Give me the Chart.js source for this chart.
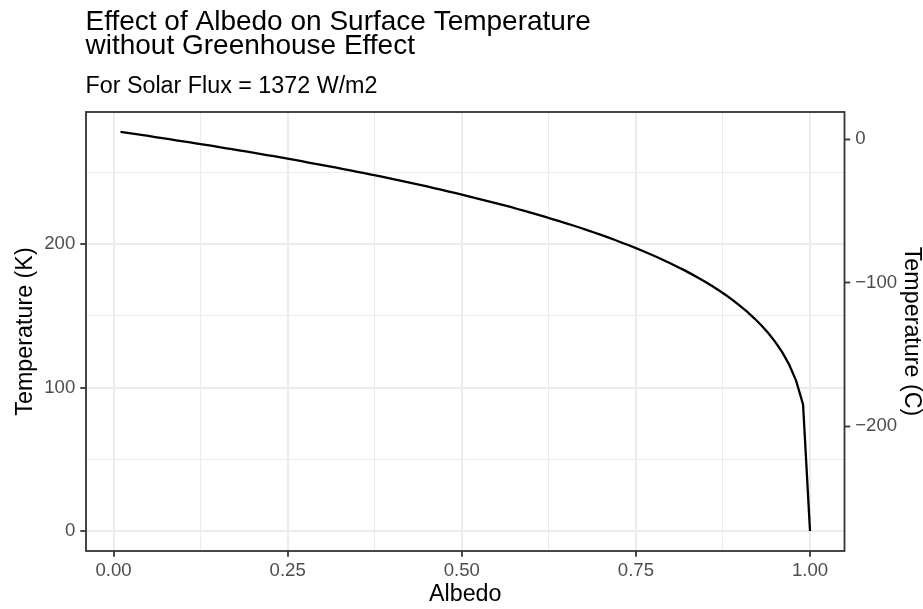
<!DOCTYPE html>
<html>
<head>
<meta charset="utf-8">
<script src="https://cdn.jsdelivr.net/npm/chart.js@4/dist/chart.umd.min.js"></script>
<style>
html,body{margin:0;padding:0;background:#fff;}
#wrap{position:relative;width:923px;height:609px;}
</style>
</head>
<body>
<div id="wrap"><canvas id="c" width="923" height="609"></canvas></div>
<script>
const titleLines = ["Effect of Albedo on Surface Temperature", "without Greenhouse Effect"];
const subtitleText = "For Solar Flux = 1372 W/m2";
const xTitle = "Albedo";
const yTitle = "Temperature (K)";
const y2Title = "Temperature (C)";

const albedo = [0.01,0.02,0.03,0.04,0.05,0.06,0.07,0.08,0.09,0.10,
0.11,0.12,0.13,0.14,0.15,0.16,0.17,0.18,0.19,0.20,
0.21,0.22,0.23,0.24,0.25,0.26,0.27,0.28,0.29,0.30,
0.31,0.32,0.33,0.34,0.35,0.36,0.37,0.38,0.39,0.40,
0.41,0.42,0.43,0.44,0.45,0.46,0.47,0.48,0.49,0.50,
0.51,0.52,0.53,0.54,0.55,0.56,0.57,0.58,0.59,0.60,
0.61,0.62,0.63,0.64,0.65,0.66,0.67,0.68,0.69,0.70,
0.71,0.72,0.73,0.74,0.75,0.76,0.77,0.78,0.79,0.80,
0.81,0.82,0.83,0.84,0.85,0.86,0.87,0.88,0.89,0.90,
0.91,0.92,0.93,0.94,0.95,0.96,0.97,0.98,0.99,1.00];

const tempK = [278.2,277.5,276.8,276.1,275.4,274.6,273.9,273.2,272.4,271.7,
270.9,270.1,269.4,268.6,267.8,267.0,266.2,265.4,264.6,263.8,
262.9,262.1,261.3,260.4,259.6,258.7,257.8,256.9,256.0,255.1,
254.2,253.3,252.3,251.4,250.4,249.5,248.5,247.5,246.5,245.5,
244.4,243.4,242.3,241.3,240.2,239.1,238.0,236.8,235.7,234.5,
233.3,232.1,230.9,229.7,228.4,227.2,225.9,224.5,223.2,221.8,
220.4,219.0,217.5,216.0,214.5,213.0,211.4,209.8,208.1,206.4,
204.7,202.9,201.0,199.2,197.2,195.2,193.1,191.0,188.8,186.5,
184.1,181.7,179.1,176.4,173.6,170.6,167.5,164.2,160.6,156.8,
152.8,148.3,143.5,138.0,131.9,124.7,116.1,104.9,88.2,0.0];

const xTicks = [0, 0.25, 0.5, 0.75, 1.0];
const xMinorTicks = [0.125, 0.375, 0.625, 0.875];
const yTicks = [0, 100, 200];
const yMinorTicks = [50, 150, 250];
const y2Ticks = [-200, -100, 0];
const kelvinOffset = 273.15;

const FONT = "'Liberation Sans', Arial, Helvetica, sans-serif";
const TICK_FONT = 18.6;
const AXIS_TITLE_FONT = 23.3;

// ggplot-like expansion (5%)
const xMinD = Math.min(...albedo), xMaxD = Math.max(...albedo);
const yMinD = Math.min(...tempK), yMaxD = Math.max(...tempK);
const xPad = (xMaxD - xMinD) * 0.05, yPad = (yMaxD - yMinD) * 0.05;
const xMin = xMinD - xPad, xMax = xMaxD + xPad;
const yMin = yMinD - yPad, yMax = yMaxD + yPad;

const points = albedo.map((a, i) => ({x: a, y: tempK[i]}));

const isMajor = (v, arr) => arr.some(t => Math.abs(t - v) < 1e-9);

const titlePlugin = {
  id: 'ggTitle',
  afterDraw(chart) {
    const ctx = chart.ctx;
    const left = chart.chartArea.left - 0.5;
    ctx.save();
    ctx.fillStyle = '#000';
    ctx.textAlign = 'left';
    ctx.textBaseline = 'alphabetic';
    ctx.font = "28px " + FONT;
    ctx.fillText(titleLines[0], left, 29.5);
    ctx.fillText(titleLines[1], left, 54);
    ctx.font = "23.3px " + FONT;
    ctx.fillText(subtitleText, left, 93);
    ctx.restore();
  }
};

const borderPlugin = {
  id: 'ggBorder',
  afterDraw(chart) {
    const a = chart.chartArea;
    const ctx = chart.ctx;
    ctx.save();
    ctx.strokeStyle = '#333333';
    ctx.lineWidth = 1.8;
    ctx.strokeRect(a.left, a.top, a.right - a.left, a.bottom - a.top);
    ctx.restore();
  }
};

new Chart(document.getElementById('c'), {
  type: 'line',
  data: {
    datasets: [{
      data: points,
      borderColor: '#000000',
      borderWidth: 2.3,
      pointRadius: 0,
      tension: 0,
      fill: false
    }]
  },
  options: {
    responsive: false,
    animation: false,
    devicePixelRatio: 1,
    layout: {padding: {top: 112, left: 0, right: 0, bottom: 0}},
    plugins: {legend: {display: false}, tooltip: {enabled: false}, title: {display: false}},
    scales: {
      x: {
        type: 'linear',
        min: xMin, max: xMax,
        afterBuildTicks: s => { s.ticks = [...xTicks, ...xMinorTicks].sort((a,b)=>a-b).map(v => ({value: v})); },
        afterFit: s => { s.height = 58; },
        border: {display: false},
        grid: {
          color: '#EBEBEB',
          lineWidth: c => isMajor(c.tick.value, xTicks) ? 2 : 1,
          tickColor: c => isMajor(c.tick.value, xTicks) ? '#333333' : 'rgba(0,0,0,0)',
          tickLength: 5.7,
          tickWidth: 1.8
        },
        ticks: {
          autoSkip: false,
          maxRotation: 0,
          padding: 3,
          color: '#4D4D4D',
          font: {family: FONT, size: TICK_FONT},
          callback: v => isMajor(v, xTicks) ? v.toFixed(2) : ''
        },
        title: {display: true, text: xTitle, color: '#000', font: {family: FONT, size: AXIS_TITLE_FONT}, padding: {top: 0, bottom: 0}}
      },
      y: {
        type: 'linear',
        position: 'left',
        min: yMin, max: yMax,
        afterBuildTicks: s => { s.ticks = [...yTicks, ...yMinorTicks].sort((a,b)=>a-b).map(v => ({value: v})); },
        afterFit: s => { s.width = 86; },
        border: {display: false},
        grid: {
          color: '#EBEBEB',
          lineWidth: c => isMajor(c.tick.value, yTicks) ? 2 : 1,
          tickColor: c => isMajor(c.tick.value, yTicks) ? '#333333' : 'rgba(0,0,0,0)',
          tickLength: 5.7,
          tickWidth: 1.8
        },
        ticks: {
          autoSkip: false,
          padding: 5,
          color: '#4D4D4D',
          font: {family: FONT, size: TICK_FONT},
          callback: v => isMajor(v, yTicks) ? String(v) : ''
        },
        title: {display: true, text: yTitle, color: '#000', font: {family: FONT, size: AXIS_TITLE_FONT}, padding: {top: 12, bottom: 0}}
      },
      y2: {
        type: 'linear',
        position: 'right',
        min: yMin - kelvinOffset, max: yMax - kelvinOffset,
        afterBuildTicks: s => { s.ticks = y2Ticks.map(v => ({value: v})); },
        afterFit: s => { s.width = 78.5; },
        border: {display: false},
        grid: {
          drawOnChartArea: false,
          drawTicks: true,
          tickColor: '#333333',
          tickLength: 5.7,
          tickWidth: 1.8
        },
        ticks: {
          autoSkip: false,
          padding: 5,
          color: '#4D4D4D',
          font: {family: FONT, size: TICK_FONT},
          callback: v => String(v).replace('-', '\u2212')
        },
        title: {display: true, text: y2Title, color: '#000', font: {family: FONT, size: AXIS_TITLE_FONT}, padding: {top: -2, bottom: 0}}
      }
    }
  },
  plugins: [titlePlugin, borderPlugin]
});
</script>
</body>
</html>
